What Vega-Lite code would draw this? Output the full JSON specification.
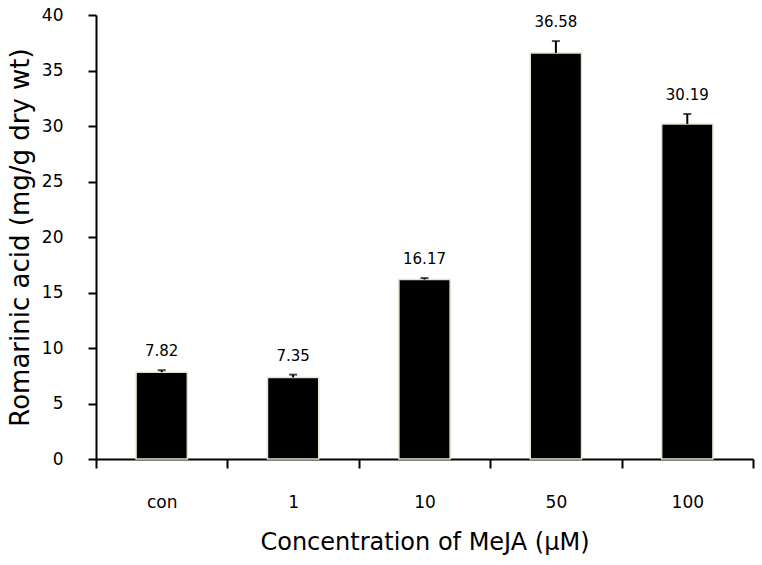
{
  "$schema": "https://vega.github.io/schema/vega-lite/v6.json",
  "autosize": "none",
  "width": 657,
  "height": 444,
  "padding": {"left": 96, "top": 15, "right": 9, "bottom": 106},
  "background": "white",
  "config": {"view": {"stroke": null}, "font": "DejaVu Sans"},
  "data": {"values": [
    {"conc": "con", "value": 7.82, "upper": 8.0, "label": "7.82"},
    {"conc": "1", "value": 7.35, "upper": 7.6, "label": "7.35"},
    {"conc": "10", "value": 16.17, "upper": 16.3, "label": "16.17"},
    {"conc": "50", "value": 36.58, "upper": 37.65, "label": "36.58"},
    {"conc": "100", "value": 30.19, "upper": 31.08, "label": "30.19"}
  ]},
  "encoding": {
    "x": {
      "field": "conc", "type": "nominal", "sort": null,
      "scale": {"paddingInner": 0, "paddingOuter": 0},
      "axis": {
        "title": "Concentration of MeJA (μM)",
        "titleFontSize": 24, "titleFontWeight": "normal", "titleColor": "black", "titlePadding": 20,
        "labelAngle": 0, "labelFontSize": 17, "labelColor": "black", "labelPadding": 26,
        "domainColor": "black", "domainWidth": 2,
        "tickBand": "extent", "tickColor": "black", "tickWidth": 2, "tickSize": 9,
        "grid": false
      }
    }
  },
  "layer": [
    {
      "mark": {"type": "bar", "color": "black", "stroke": "#e4e4d0", "strokeWidth": 1.5, "width": {"band": 0.39}},
      "encoding": {
        "y": {
          "field": "value", "type": "quantitative",
          "scale": {"domain": [0, 40]},
          "axis": {
            "title": "Romarinic acid (mg/g dry wt)",
            "titleFontSize": 26, "titleFontWeight": "normal", "titleColor": "black", "titlePadding": 8,
            "values": [0, 5, 10, 15, 20, 25, 30, 35, 40],
            "labelFontSize": 17, "labelColor": "black", "labelPadding": 25,
            "domainColor": "black", "domainWidth": 2,
            "tickColor": "black", "tickWidth": 2, "tickSize": 8,
            "grid": false
          }
        }
      }
    },
    {
      "mark": {"type": "rule", "color": "black", "strokeWidth": 2},
      "encoding": {"y": {"field": "value", "type": "quantitative"}, "y2": {"field": "upper"}}
    },
    {
      "mark": {"type": "tick", "color": "black", "thickness": 2, "size": 8, "orient": "horizontal"},
      "encoding": {"y": {"field": "upper", "type": "quantitative"}}
    },
    {
      "mark": {"type": "text", "fontSize": 15, "color": "black", "baseline": "bottom", "dy": -11},
      "encoding": {"y": {"field": "upper", "type": "quantitative"}, "text": {"field": "label"}}
    }
  ]
}
